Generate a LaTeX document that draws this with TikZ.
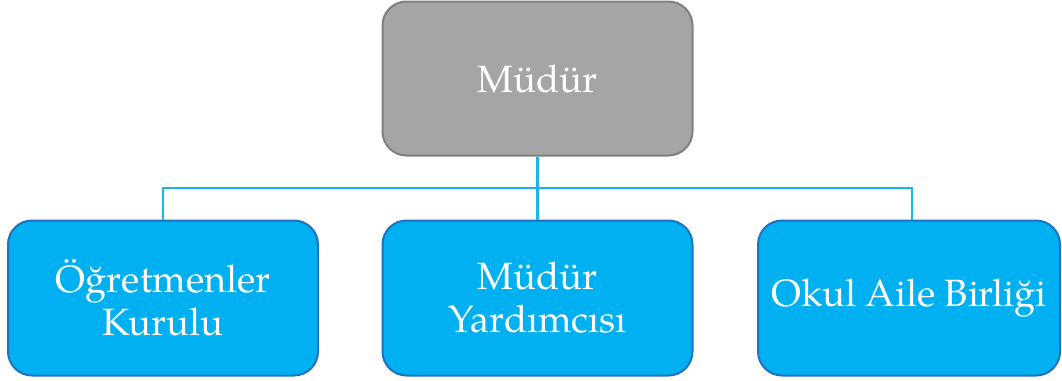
\documentclass[tikz,border=0pt]{standalone}
\usepackage{fontspec}
\setmainfont{TeX Gyre Pagella}
\definecolor{boxblue}{HTML}{00B0F0}
\definecolor{boxedge}{HTML}{1F72C0}
\definecolor{boxgray}{HTML}{A5A5A5}
\definecolor{grayedge}{HTML}{7F7F7F}
\definecolor{linkblue}{HTML}{1CB5EA}
\tikzset{
  orgbox/.style={rectangle, rounded corners=24pt, draw=boxedge, fill=boxblue, line width=2pt,
    text=white, align=center, inner sep=0pt,
    font=\fontsize{38}{43}\selectfont},
  topbox/.style={orgbox, draw=grayedge, fill=boxgray},
  link/.style={draw=linkblue, line width=2.4pt}
}
\begin{document}
\begin{tikzpicture}[x=1pt,y=-1pt]
\useasboundingbox (0,0) rectangle (1062,380);
\clip (0,0) rectangle (1062,380);
\node[topbox, minimum width=310pt, minimum height=154pt] (top) at (537.5,78.5) {Müdür};
\node[orgbox, minimum width=310pt, minimum height=155pt] (left) at (163,298) {Öğretmenler\\Kurulu};
\node[orgbox, minimum width=310pt, minimum height=155pt] (mid) at (537.5,298) {Müdür\\Yardımcısı};
\node[orgbox, minimum width=302pt, minimum height=155pt] (right) at (909,298) {Okul Aile Birliği};
\coordinate (bus) at (537.5,188);
\coordinate (rtop) at ([xshift=3pt]right.north);
\draw[link] (top.south) -- (bus);
\draw[link] (bus) -| (left.north);
\draw[link] (bus) -| (rtop);
\draw[link] (bus) -- (mid.north);
\end{tikzpicture}
\end{document}
